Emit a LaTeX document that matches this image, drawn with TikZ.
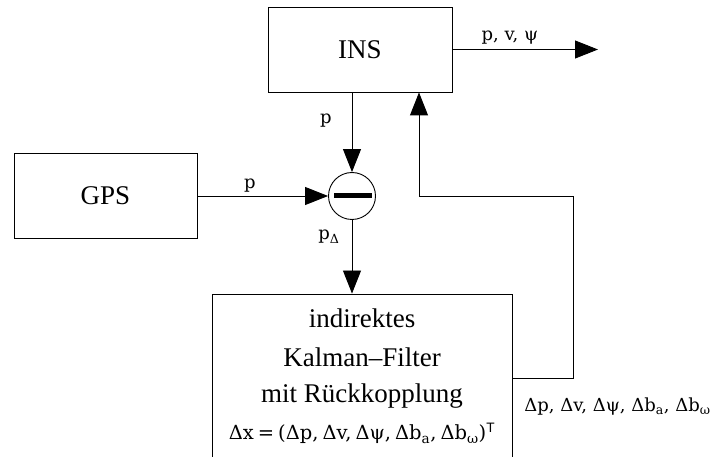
\documentclass[tikz,border=0pt]{standalone}
\usepackage{fontspec}
\setmainfont{Liberation Serif}
\setsansfont{Liberation Sans}
\newfontfamily\mf{DejaVu Serif}
\usetikzlibrary{arrows.meta}
\newcommand{\gap}{\hspace{4pt}}
\begin{document}
\begin{tikzpicture}[x=1pt,y=-1pt,line width=0.9pt,
  box/.style={draw,rectangle,inner sep=0pt,font=\fontsize{27}{32}\selectfont},
  arr/.style={-{Triangle[length=23pt,width=18pt]}},
  lab/.style={inner sep=0pt,font=\mf\fontsize{18}{22}\selectfont},
  kftext/.style={inner sep=0pt,anchor=base,font=\fontsize{27}{32}\selectfont}]
\useasboundingbox (0,0) rectangle (716,457);
\node[box,minimum width=184pt,minimum height=85pt] (ins) at (360,49.5) {INS};
\node[box,minimum width=183pt,minimum height=85pt] (gps) at (105.5,196) {GPS};
\node[draw,circle,minimum size=47pt,inner sep=0pt] (sum) at (352,196) {};
\fill (334,193.5) rectangle (372,198.5);
\node[box,minimum width=300pt,minimum height=180pt] (kf) at (362,384) {};
\node[kftext] (l1) at (362,328) {indirektes};
\node[kftext] (l2) at (362,367) {Kalman–Filter};
\node[kftext] (l3) at (362,403) {mit Rückkopplung};
\node[lab,anchor=base,font=\mf\fontsize{19.5}{23}\selectfont] (l4) at (362,440) {Δx\gap=\gap(Δp,\gap Δv,\gap Δψ,\gap Δb\textsubscript{a},\gap Δb\textsubscript{ω})\textsuperscript{\sffamily T}};
\coordinate (out) at (598,49.5);
\coordinate (c0) at (573,378);
\coordinate (c1) at (573,196);
\coordinate (c2) at (419,196);
\draw[arr] (ins.east) -- (out);
\draw[arr] (ins.south -| sum.north) -- (sum.north);
\draw[arr] (gps.east) -- (sum.west);
\draw[arr] (sum.south) -- (sum.south |- kf.north);
\draw[arr] (c0 -| kf.east) -- (c0) -- (c1) -- (c2) -- (c2 |- ins.south);
\node[lab] (lout) at (510,38) {p, v, ψ};
\node[lab] (lp1) at (326,121) {p};
\node[lab] (lp2) at (250,186) {p};
\node[lab] (lpd) at (329,237) {p\textsubscript{Δ}};
\node[lab,anchor=west] (lfb) at (524,407) {Δp, Δv, Δψ, Δb\textsubscript{a}, Δb\textsubscript{ω}};
\end{tikzpicture}
\end{document}
